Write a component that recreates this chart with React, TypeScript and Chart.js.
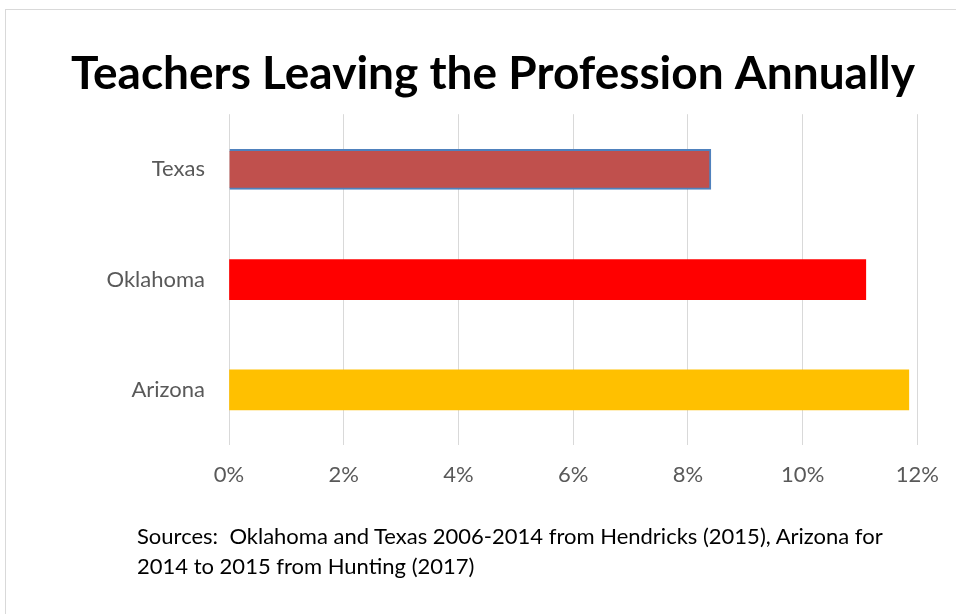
import React, { useEffect, useRef } from "react";
import { Chart, registerables } from "chart.js";

Chart.register(...registerables);

const titleText = "Teachers Leaving the Profession Annually";
const states = ["Texas", "Oklahoma", "Arizona"];
const leavingRates = [8.4, 11.1, 11.85];
const barColors = ["#C0504D", "#FF0000", "#FFC000"];
const barBorderColors = ["#4F81BD", "#FF0000", "#FFC000"];
const barBorderWidths = [2, 0, 0];
const xTickMax = 12;
const xTickStep = 2;
const sourceLines = [
  "Sources:\u00a0\u00a0Oklahoma and Texas 2006-2014 from Hendricks (2015), Arizona for",
  "2014 to 2015 from Hunting (2017)",
];

const FONT = "Lato, 'Open Sans', sans-serif";

export default function App() {
  const canvasRef = useRef<HTMLCanvasElement | null>(null);

  useEffect(() => {
    const canvas = canvasRef.current;
    if (!canvas) return;
    const chart = new Chart(canvas, {
      type: "bar",
      data: {
        labels: states,
        datasets: [
          {
            label: "Annual leaving rate",
            data: leavingRates,
            backgroundColor: barColors,
            borderColor: barBorderColors,
            borderWidth: barBorderWidths,
            barThickness: 40,
          },
        ],
      },
      options: {
        indexAxis: "y",
        animation: false,
        responsive: false,
        maintainAspectRatio: false,
        layout: { padding: { left: 67, right: 37, top: 0, bottom: 109 } },
        plugins: {
          legend: { display: false },
          tooltip: { enabled: false },
          title: {
            display: true,
            text: titleText,
            color: "#000000",
            font: { family: FONT, size: 46, weight: "bold", lineHeight: 1.2 },
            padding: { top: 47, bottom: 12 },
          },
        },
        scales: {
          x: {
            min: 0,
            max: xTickMax,
            ticks: {
              stepSize: xTickStep,
              color: "#595959",
              font: { family: FONT, size: 22 },
              padding: 17,
              callback: (v: any) => `${v}%`,
            },
            grid: { color: "#D9D9D9", lineWidth: 1, drawTicks: false },
            border: { display: false },
            afterFit: (scale: any) => {
              scale.height = 60;
            },
          },
          y: {
            ticks: {
              color: "#595959",
              font: { family: FONT, size: 22 },
              padding: 24,
            },
            grid: { display: false, drawTicks: false },
            border: { display: false },
            afterFit: (scale: any) => {
              scale.width = 162;
            },
          },
        },
      },
    });
    return () => chart.destroy();
  }, []);

  return (
    <div
      style={{
        position: "absolute",
        left: 0,
        top: 0,
        width: 956,
        height: 614,
        overflow: "hidden",
        background: "#ffffff",
      }}
    >
      <div
        style={{
          position: "absolute",
          left: 5,
          top: 9,
          width: 1000,
          height: 700,
          border: "1px solid #D9D9D9",
          boxSizing: "border-box",
        }}
      />
      <canvas
        ref={canvasRef}
        width={956}
        height={614}
        style={{ position: "absolute", left: 0, top: 0, width: 956, height: 614 }}
      />
      <div
        style={{
          position: "absolute",
          left: 137,
          top: 521,
          fontFamily: FONT,
          fontSize: 22,
          lineHeight: "30px",
          color: "#000000",
          whiteSpace: "pre",
        }}
      >
        {sourceLines.map((l, i) => (
          <div key={i}>{l}</div>
        ))}
      </div>
    </div>
  );
}
